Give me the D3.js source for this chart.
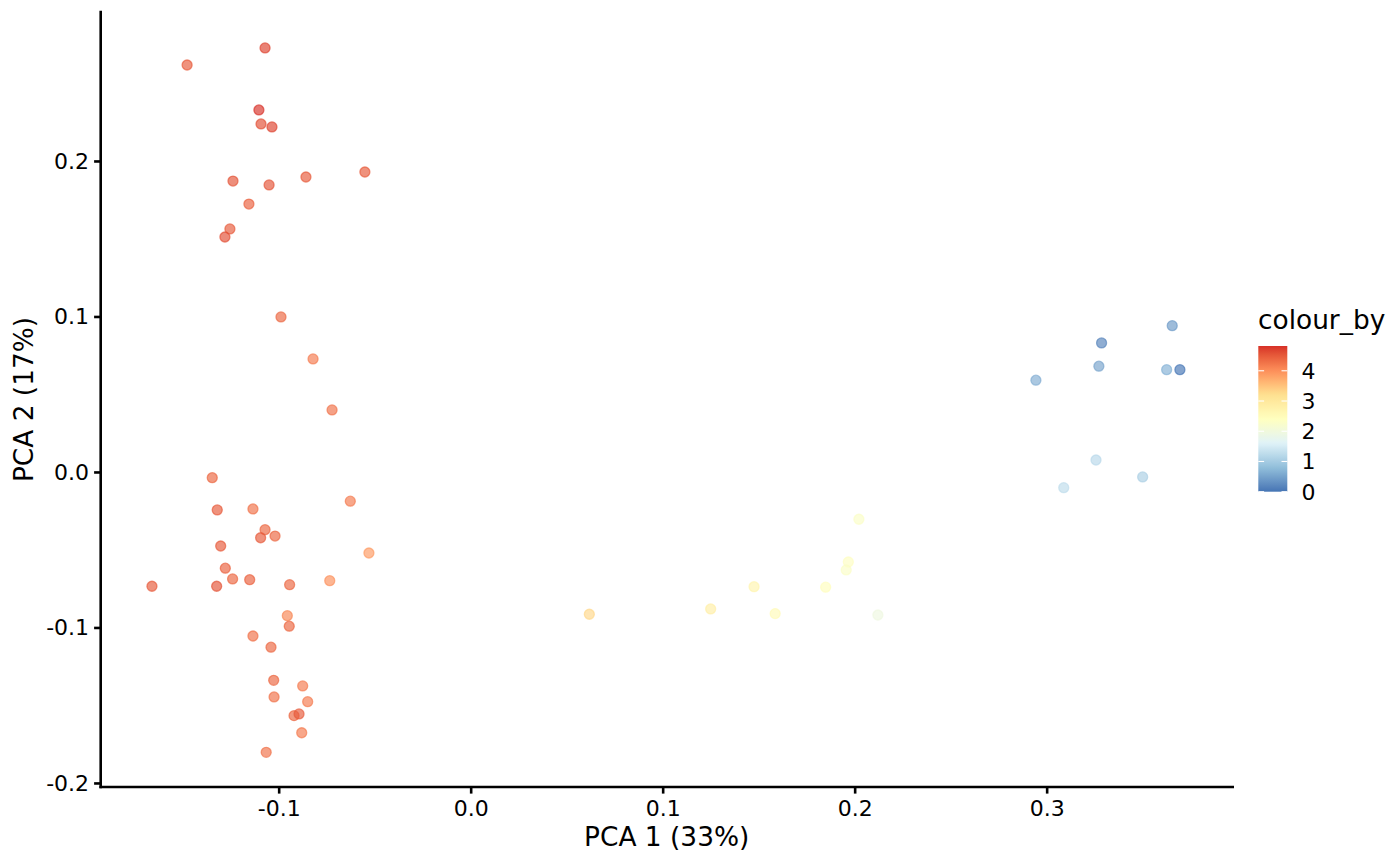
<!DOCTYPE html>
<meta charset="utf-8" />
<style>
  body { margin: 0; background: #fff; }
  svg text { font-family: "DejaVu Sans", sans-serif; fill: #000; }
</style>
<body>
<script src="https://d3js.org/d3.v7.min.js"></script>
<script>

// PCA scores (x, y) and colour_by value
var pc1 = [
  -0.1071, -0.1477, -0.1103, -0.1092, -0.1035, -0.1238, -0.1050, -0.0858, -0.0551, -0.1155,
  -0.1254, -0.1280, -0.0988, -0.0821, -0.0722,
  -0.1346, -0.1320, -0.1134, -0.0627, -0.1071, -0.1094, -0.1019, -0.1302, -0.0530, -0.1278,
  -0.1240, -0.1151, -0.1660, -0.1323, -0.0943, -0.0734, -0.0955, -0.0945, -0.1134, -0.1040,
  -0.1026, -0.0875, -0.1024, -0.0849, -0.0920, -0.0894, -0.0880, -0.1065,
  0.0618, 0.1250, 0.1476, 0.1586, 0.1849, 0.1967, 0.1956, 0.2022, 0.2121,
  0.3654, 0.3286, 0.3272, 0.3625, 0.3694, 0.2944, 0.3257, 0.3500, 0.3089
];
var pc2 = [
  0.2727, 0.2617, 0.2328, 0.2238, 0.2219, 0.1871, 0.1846, 0.1897, 0.1929, 0.1723,
  0.1563, 0.1511, 0.0997, 0.0727, 0.0399,
  -0.0037, -0.0244, -0.0238, -0.0188, -0.0371, -0.0423, -0.0412, -0.0476, -0.0521, -0.0619,
  -0.0688, -0.0693, -0.0735, -0.0735, -0.0725, -0.0699, -0.0924, -0.0992, -0.1055, -0.1127,
  -0.1340, -0.1376, -0.1447, -0.1477, -0.1567, -0.1556, -0.1677, -0.1803,
  -0.0915, -0.0881, -0.0738, -0.0911, -0.0741, -0.0579, -0.0630, -0.0304, -0.0920,
  0.0941, 0.0830, 0.0680, 0.0658, 0.0658, 0.0590, 0.0077, -0.0032, -0.0101
];
var colourBy = [
  4.7, 4.5, 4.82, 4.6, 4.7, 4.55, 4.55, 4.5, 4.5, 4.45,
  4.5, 4.6, 4.4, 4.2, 4.3,
  4.4, 4.5, 4.3, 4.2, 4.4, 4.5, 4.4, 4.5, 3.9, 4.45,
  4.4, 4.45, 4.5, 4.55, 4.4, 4.0, 4.1, 4.4, 4.3, 4.4,
  4.4, 4.2, 4.3, 4.2, 4.4, 4.5, 4.2, 4.3,
  3.3, 2.85, 2.7, 2.55, 2.45, 2.35, 2.3, 2.3, 1.95,
  0.4, 0.15, 0.5, 0.65, 0.0, 0.6, 1.2, 1.05, 1.25
];

var xTicks = [-0.1, 0.0, 0.1, 0.2, 0.3];
var xTickLabels = ["-0.1", "0.0", "0.1", "0.2", "0.3"];
var yTicks = [-0.2, -0.1, 0.0, 0.1, 0.2];
var yTickLabels = ["-0.2", "-0.1", "0.0", "0.1", "0.2"];
var legendTicks = [0, 1, 2, 3, 4];

// RdYlBu, reversed (low = blue, high = red)
var palette = ["#4575b4", "#91bfdb", "#e0f3f8", "#ffffbf", "#fee090", "#fc8d59", "#d73027"];

var W = 1400, H = 865;
var panel = {left: 100.7, right: 1232.7, top: 12, bottom: 787};

var x = d3.scaleLinear().domain([-0.1927, 0.3969]).range([panel.left, panel.right]);
var y = d3.scaleLinear().domain([-0.2026, 0.2958]).range([panel.bottom, panel.top]);

var cMin = d3.min(colourBy), cMax = d3.max(colourBy);
var colour = d3.scaleLinear()
    .domain(palette.map(function(d, i) { return cMin + (cMax - cMin) * i / (palette.length - 1); }))
    .range(palette)
    .interpolate(d3.interpolateLab);

var svg = d3.select("body").append("svg")
    .attr("width", W)
    .attr("height", H);

var data = pc1.map(function(d, i) { return {x: d, y: pc2[i], c: colourBy[i]}; });

// points
svg.append("g").selectAll("circle")
    .data(data)
  .enter().append("circle")
    .attr("cx", function(d) { return x(d.x); })
    .attr("cy", function(d) { return y(d.y); })
    .attr("r", 5)
    .attr("fill", function(d) { return colour(d.c); })
    .attr("fill-opacity", 0.66)
    .attr("stroke", function(d) { return colour(d.c); })
    .attr("stroke-opacity", 0.66)
    .attr("stroke-width", 1.3);

// axes
var xAxis = svg.append("g")
    .attr("transform", "translate(0," + panel.bottom + ")")
    .call(d3.axisBottom(x).tickValues(xTicks).tickSize(6.6).tickPadding(6)
        .tickFormat(function(d, i) { return xTickLabels[i]; }));
xAxis.select(".domain").attr("d", "M" + panel.left + ",0H" + panel.right);

var yAxis = svg.append("g")
    .attr("transform", "translate(" + panel.left + ",0)")
    .call(d3.axisLeft(y).tickValues(yTicks).tickSize(6.6).tickPadding(5)
        .tickFormat(function(d, i) { return yTickLabels[i]; }));
yAxis.select(".domain").attr("d", "M0," + panel.top + "V" + panel.bottom);

[xAxis, yAxis].forEach(function(a) {
  a.select(".domain").attr("stroke", "#000").attr("stroke-width", 2.6).attr("stroke-linecap", "square");
  a.selectAll(".tick line").attr("stroke", "#000").attr("stroke-width", 2.6);
  a.selectAll(".tick text")
      .style("font-family", "DejaVu Sans")
      .style("font-size", "22px")
      .attr("fill", "#000");
});
xAxis.selectAll(".tick text").attr("dy", "0.75em");

// axis titles
svg.append("text")
    .attr("x", (panel.left + panel.right) / 2)
    .attr("y", 846)
    .attr("text-anchor", "middle")
    .style("font-size", "26.4px")
    .text("PCA 1 (33%)");

svg.append("text")
    .attr("transform", "translate(33," + (panel.top + panel.bottom) / 2 + ")rotate(-90)")
    .attr("text-anchor", "middle")
    .style("font-size", "26.4px")
    .text("PCA 2 (17%)");

// legend
var bar = {x: 1258.3, w: 29, top: 346, bottom: 491.7};
var ly = d3.scaleLinear().domain([cMin, cMax]).range([bar.bottom, bar.top]);

var grad = svg.append("defs").append("linearGradient")
    .attr("id", "cgrad")
    .attr("x1", 0).attr("y1", 1).attr("x2", 0).attr("y2", 0);
d3.range(0, 1.0001, 0.02).forEach(function(t) {
  grad.append("stop")
      .attr("offset", t)
      .attr("stop-color", colour(cMin + t * (cMax - cMin)));
});

var legend = svg.append("g");
legend.append("text")
    .attr("x", 1258)
    .attr("y", 329)
    .style("font-size", "26.4px")
    .text("colour_by");

legend.append("rect")
    .attr("x", bar.x)
    .attr("y", bar.top)
    .attr("width", bar.w)
    .attr("height", bar.bottom - bar.top)
    .attr("fill", "url(#cgrad)");

legendTicks.forEach(function(t) {
  var yy = ly(t);
  legend.append("line")
      .attr("x1", bar.x).attr("x2", bar.x + 5.8)
      .attr("y1", yy).attr("y2", yy)
      .attr("stroke", "#fff").attr("stroke-width", 1.1);
  legend.append("line")
      .attr("x1", bar.x + bar.w - 5.8).attr("x2", bar.x + bar.w)
      .attr("y1", yy).attr("y2", yy)
      .attr("stroke", "#fff").attr("stroke-width", 1.1);
  legend.append("text")
      .attr("x", 1301.5)
      .attr("y", yy)
      .attr("dy", "0.36em")
      .style("font-size", "22px")
      .text(t);
});

</script>
</body>
